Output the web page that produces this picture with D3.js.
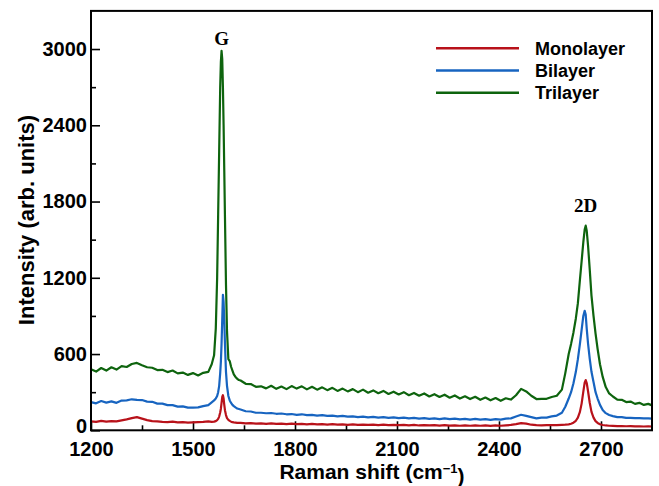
<!DOCTYPE html>
<html>
<head>
<meta charset="utf-8">
<script src="https://cdn.jsdelivr.net/npm/d3@7"></script>
<style>
  body { margin: 0; background: #fff; }
  svg { display: block; }
</style>
</head>
<body>
<script>
//Raman shift positions (cm-1)
var shift = [1200,1215,1230,1245,1260,1275,1290,1305,1320,1335,1350,1365,1380,1395,1410,1425,1440,1455,1470,1485,1500,1515,1530,1545,
	1555,1562,1567,1571,1574,1577,1580,1582,1584,1586,1588,1590,1592,1594,1597,1600,1604,1608,1612,1616,1620,1625,1630,1635,
	1640,1655,1670,1685,1700,1715,1730,1745,1760,1775,1790,1805,1820,1835,1850,1865,1880,1895,1910,1925,
	1940,1955,1970,1985,2000,2015,2030,2045,2060,2075,2090,2105,2120,2135,2150,2165,2180,2195,2210,2225,
	2240,2255,2270,2285,2300,2315,2330,2345,2360,2375,2390,2405,2420,2435,2450,2465,2480,2495,2510,2525,
	2540,2555,2570,2585,
	2595,2605,2612,2619,2626,2632,2638,2643,2648,2652,2655,2658,2662,2667,2672,2678,2684,2690,2697,2705,2714,2724,
	2735,2748,2761,2774,2787,2800,2813,2826,2839,2850];

var monolayer = [70,66,74,68,72,70,78,86,96,104,92,80,72,70,66,64,68,62,64,60,62,64,66,70,
	66,68,72,80,90,108,140,170,215,262,276,250,200,158,120,96,82,74,68,64,62,60,58,58,
	58,55,57,53,55,51,54,50,53,49,52,48,51,47,50,46,49,45,48,44,
	47,43,46,42,45,42,44,41,44,40,43,40,42,39,42,38,41,38,40,37,
	40,37,39,36,39,36,38,36,38,35,38,36,39,42,48,56,52,44,40,38,
	40,40,41,43,
	44,47,52,60,75,100,145,210,305,375,395,372,305,215,145,100,72,58,48,42,38,36,
	35,33,34,32,33,31,32,30,31,30];

var bilayer = [222,212,230,218,228,216,234,236,244,240,238,226,224,210,210,198,198,186,188,178,178,180,190,198,
	220,235,250,270,300,350,450,540,680,870,1066,1010,860,680,460,350,270,235,215,200,190,180,172,168,
	164,150,148,138,138,134,136,130,132,126,128,122,126,120,122,116,120,114,116,110,
	114,108,110,104,108,102,106,100,104,98,102,96,100,94,98,92,96,90,94,88,
	94,88,92,86,90,84,90,84,88,82,88,84,92,94,108,122,114,104,94,100,
	100,110,116,138,
	185,250,300,370,460,560,680,790,900,940,910,800,680,560,460,380,300,250,200,160,135,120,
	112,104,104,98,98,96,96,94,94,92];

var trilayer = [480,462,490,470,496,478,505,498,522,530,512,496,492,474,476,458,470,448,454,436,450,432,452,460,
	520,590,800,1200,1700,2200,2700,2900,2985,2920,2700,2400,2040,1680,1150,780,560,545,500,470,440,420,405,396,
	392,366,364,342,346,330,350,326,344,324,348,328,346,322,342,320,338,316,334,310,
	328,306,324,300,320,296,314,292,310,286,304,282,300,276,294,272,290,266,284,262,
	280,256,274,250,268,246,264,240,258,236,254,232,252,242,276,326,306,272,246,248,
	248,262,272,320,
	450,600,680,770,880,1000,1184,1330,1480,1580,1610,1570,1450,1260,1060,900,760,640,520,420,340,290,
	266,242,240,222,226,208,216,200,208,196];

var seriesNames = ["Monolayer", "Bilayer", "Trilayer"];
var seriesColors = ["#b8121a", "#1764c0", "#0e640e"];
var xTicks = [1200, 1500, 1800, 2100, 2400, 2700];
var xMinor = [1350, 1650, 1950, 2250, 2550];
var yTicks = [0, 600, 1200, 1800, 2400, 3000];
var yMinor = [300, 900, 1500, 2100, 2700];
var peakLabels = [{ text: "G", x: 1584, y: 3032 }, { text: "2D", x: 2655, y: 1720 }];

//Width and height
var w = 659;
var h = 486;

var xScale = d3.scaleLinear()
	.domain([1200, 2850])
	.range([91, 652]);

var yScale = d3.scaleLinear()
	.domain([0, 3300])
	.range([430.3, 10.9]);

var svg = d3.select("body")
	.append("svg")
	.attr("width", w)
	.attr("height", h);

var tickFont = "'Liberation Sans', Arial, Helvetica, sans-serif";

//Axes (ticks point inward)
svg.append("g")
	.attr("transform", "translate(0," + yScale(0) + ")")
	.call(d3.axisBottom(xScale).tickValues(xTicks).tickSizeInner(-9).tickSizeOuter(0).tickPadding(12).tickFormat(d3.format("d")));
svg.append("g")
	.attr("transform", "translate(0," + yScale(0) + ")")
	.call(d3.axisBottom(xScale).tickValues(xMinor).tickSizeInner(-5).tickSizeOuter(0).tickFormat(""));

svg.append("g")
	.attr("class", "yaxis")
	.attr("transform", "translate(" + xScale(1200) + ",0)")
	.call(d3.axisLeft(yScale).tickValues(yTicks).tickSizeInner(-9).tickSizeOuter(0).tickPadding(4).tickFormat(d3.format("d")));
svg.append("g")
	.attr("transform", "translate(" + xScale(1200) + ",0)")
	.call(d3.axisLeft(yScale).tickValues(yMinor).tickSizeInner(-5).tickSizeOuter(0).tickFormat(""));

svg.selectAll(".domain").remove();
svg.selectAll(".tick line").attr("stroke", "#000").attr("stroke-width", 1.6);
svg.selectAll(".tick text")
	.attr("font-family", tickFont)
	.attr("font-weight", "bold")
	.attr("font-size", "20px")
	.attr("fill", "#000");
// the zero label sits a little higher, clear of 1200
svg.selectAll(".yaxis .tick text")
	.filter(function(d) { return d === 0; })
	.attr("dy", "0.12em");

//Spectra
var line = d3.line()
	.x(function(d) { return xScale(d[0]); })
	.y(function(d) { return yScale(d[1]); });

var allSeries = [monolayer, bilayer, trilayer];
svg.selectAll("path.spec")
	.data(allSeries)
	.enter()
	.append("path")
	.attr("class", "spec")
	.attr("fill", "none")
	.attr("stroke", function(d, i) { return seriesColors[i]; })
	.attr("stroke-width", 2.2)
	.attr("stroke-linejoin", "round")
	.attr("d", function(d) {
		return line(d.map(function(v, i) { return [shift[i], v]; }));
	});

//Frame
svg.append("rect")
	.attr("x", xScale(1200))
	.attr("y", yScale(3300))
	.attr("width", xScale(2850) - xScale(1200))
	.attr("height", yScale(0) - yScale(3300))
	.attr("fill", "none")
	.attr("stroke", "#000")
	.attr("stroke-width", 2);

//Peak labels
svg.selectAll("text.peak")
	.data(peakLabels)
	.enter()
	.append("text")
	.attr("class", "peak")
	.attr("x", function(d) { return xScale(d.x); })
	.attr("y", function(d) { return yScale(d.y); })
	.attr("text-anchor", "middle")
	.attr("font-family", "'Liberation Serif', 'Times New Roman', serif")
	.attr("font-weight", "bold")
	.attr("font-size", "19px")
	.text(function(d) { return d.text; });

//Legend
var legend = svg.selectAll("g.legend")
	.data(seriesNames)
	.enter()
	.append("g")
	.attr("class", "legend")
	.attr("transform", function(d, i) { return "translate(436," + (48.3 + i * 22.2) + ")"; });
legend.append("line")
	.attr("x1", 0).attr("x2", 83)
	.attr("stroke", function(d, i) { return seriesColors[i]; })
	.attr("stroke-width", 2.6);
legend.append("text")
	.attr("x", 99)
	.attr("dy", "0.36em")
	.attr("font-family", tickFont)
	.attr("font-weight", "bold")
	.attr("font-size", "18px")
	.text(function(d) { return d; });

//Axis titles
var xTitle = svg.append("text")
	.attr("x", 372)
	.attr("y", 479)
	.attr("text-anchor", "middle")
	.attr("font-family", tickFont)
	.attr("font-weight", "bold")
	.attr("font-size", "21px");
xTitle.append("tspan").text("Raman shift (cm");
xTitle.append("tspan").attr("dy", "-0.5em").attr("font-size", "13px").text("\u22121");
xTitle.append("tspan").attr("dy", "0.5em").text(")");

svg.append("text")
	.attr("transform", "translate(34,220) rotate(-90)")
	.attr("text-anchor", "middle")
	.attr("font-family", tickFont)
	.attr("font-weight", "bold")
	.attr("font-size", "22px")
	.text("Intensity (arb. units)");
</script>
</body>
</html>
